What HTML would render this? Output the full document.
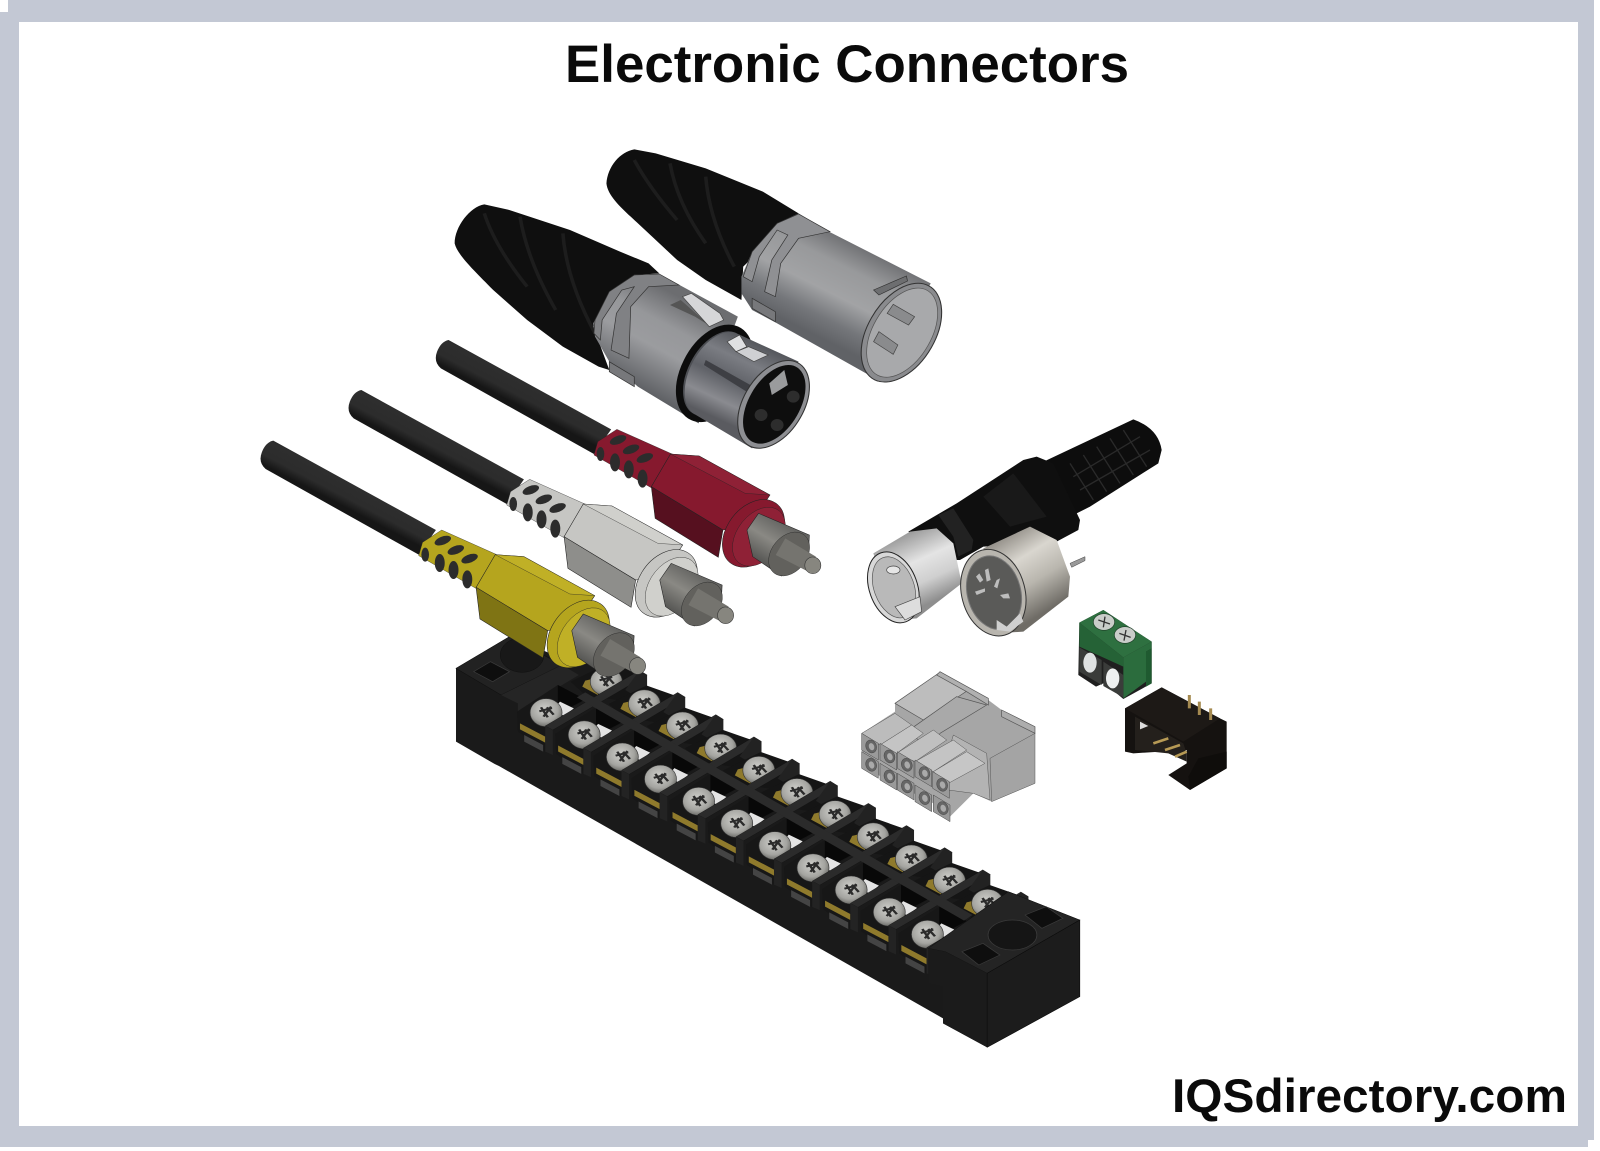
<!DOCTYPE html>
<html><head><meta charset="utf-8"><style>
html,body{margin:0;padding:0;background:#fff;width:1600px;height:1151px;overflow:hidden}
svg{display:block}
</style></head><body>
<svg xmlns="http://www.w3.org/2000/svg" xmlns:xlink="http://www.w3.org/1999/xlink" width="1600" height="1151" viewBox="0 0 1600 1151">
<defs>
<linearGradient id="mg" gradientUnits="userSpaceOnUse" x1="1290" y1="410" x2="1150" y2="670"><stop offset="0" stop-color="#707174"/><stop offset=".25" stop-color="#98999b"/><stop offset=".55" stop-color="#a2a3a5"/><stop offset=".8" stop-color="#75777b"/><stop offset="1" stop-color="#606266"/></linearGradient>
<linearGradient id="fg" gradientUnits="userSpaceOnUse" x1="760" y1="550" x2="610" y2="810"><stop offset="0" stop-color="#6c6d70"/><stop offset=".3" stop-color="#96979a"/><stop offset=".55" stop-color="#9b9c9f"/><stop offset="1" stop-color="#5c5e62"/></linearGradient>
<linearGradient id="fg2" gradientUnits="userSpaceOnUse" x1="960" y1="660" x2="840" y2="900"><stop offset="0" stop-color="#4d4f54"/><stop offset=".3" stop-color="#7b7d83"/><stop offset=".55" stop-color="#5f6167"/><stop offset=".8" stop-color="#8a8b90"/><stop offset="1" stop-color="#5a5b60"/></linearGradient>
<linearGradient id="cab" gradientUnits="userSpaceOnUse" x1="770" y1="150" x2="725" y2="225"><stop offset="0" stop-color="#111"/><stop offset=".2" stop-color="#2e2e2e"/><stop offset=".7" stop-color="#2c2c2c"/><stop offset="1" stop-color="#161616"/></linearGradient>
<linearGradient id="shell" gradientUnits="userSpaceOnUse" x1="1440" y1="570" x2="1350" y2="700"><stop offset="0" stop-color="#5a5a58"/><stop offset=".5" stop-color="#8a8984"/><stop offset="1" stop-color="#4f4f4d"/></linearGradient>
<linearGradient id="ch" gradientUnits="userSpaceOnUse" x1="200" y1="400" x2="290" y2="600"><stop offset="0" stop-color="#9b9b9b"/><stop offset=".4" stop-color="#e4e4e4"/><stop offset=".7" stop-color="#cfcfcf"/><stop offset="1" stop-color="#8e8e8e"/></linearGradient>
<linearGradient id="sock" gradientUnits="userSpaceOnUse" x1="500" y1="390" x2="640" y2="620"><stop offset="0" stop-color="#8a867f"/><stop offset=".35" stop-color="#d9d6cf"/><stop offset=".65" stop-color="#b9b6ae"/><stop offset="1" stop-color="#6f6c66"/></linearGradient>
<radialGradient id="sc" cx=".45" cy=".4" r=".65"><stop offset="0" stop-color="#cfcfcb"/><stop offset=".65" stop-color="#a4a4a0"/><stop offset="1" stop-color="#5f5f5b"/></radialGradient>

<g id="screw">
<ellipse cx="0" cy="0" rx="38" ry="42" fill="url(#sc)" stroke="#333" stroke-width="1.5"/>
<path d="M-16 -4 L14 -14 M-6 12 L12 -18 M-12 -16 L4 14 M2 -16 L18 6" stroke="#2b2b2b" stroke-width="6" fill="none"/>
</g>

<g id="rca">
<path d="M545 30 L970 298 L925 372 L525 115 Q505 95 515 65 Q525 35 545 30Z" fill="url(#cab)"/>
<path d="M985 298 L1135 375 L1085 480 L925 375 L935 335Z" fill="var(--c1)" stroke="#222" stroke-width="1"/>
<g fill="#2c2c2c">
<ellipse cx="988" cy="330" rx="23" ry="12" transform="rotate(-25 988 330)"/>
<ellipse cx="1022" cy="358" rx="23" ry="12" transform="rotate(-25 1022 358)"/>
<ellipse cx="1058" cy="384" rx="23" ry="12" transform="rotate(-25 1058 384)"/>
<ellipse cx="942" cy="372" rx="10" ry="21"/>
<ellipse cx="980" cy="397" rx="13" ry="27"/>
<ellipse cx="1016" cy="418" rx="13" ry="27"/>
<ellipse cx="1052" cy="446" rx="13" ry="27"/>
</g>
<path d="M1075 470 L1125 372 L1200 378 L1385 495 L1330 590 L1262 600Z" fill="var(--c1)" stroke="#222" stroke-width="1.5"/>
<path d="M1125 372 L1200 378 L1385 495 L1320 490Z" fill="var(--c3)" stroke="#222" stroke-width="1"/>
<path d="M1075 470 L1262 600 L1250 682 L1085 565Z" fill="var(--c2)" stroke="#222" stroke-width="1.5"/>
<ellipse cx="1342" cy="610" rx="72" ry="108" transform="rotate(28 1342 610)" fill="var(--c1)" stroke="#222" stroke-width="1.5"/>
<ellipse cx="1356" cy="620" rx="60" ry="95" transform="rotate(28 1356 620)" fill="var(--c3)" stroke="#222" stroke-width="1"/>
<path d="M1355 550 L1488 615 L1485 680 L1415 738 L1340 680 L1325 600Z" fill="url(#shell)" stroke="#222" stroke-width="1.5"/>
<ellipse cx="1435" cy="672" rx="48" ry="70" transform="rotate(28 1435 672)" fill="#62615d" stroke="#222" stroke-width="1"/>
<path d="M1425 625 L1505 680 L1485 725 L1400 675Z" fill="#75746f"/>
<ellipse cx="1497" cy="706" rx="21" ry="25" fill="#87867f" stroke="#333" stroke-width="1.5"/>
</g>

<g id="unit">
<path d="M310 125 L400 70 L490 110 L490 150 L455 175 L420 180 L345 165Z" fill="#151515"/>
<path d="M345 122 L385 110 L375 165 L338 140Z" fill="#8f7a2c"/>
<use xlink:href="#screw" x="395" y="125"/>
<path d="M183 215 L280 135 L345 178 L250 258 L250 335 L185 275Z" fill="#171717"/>
<path d="M280 135 L345 178 L305 205 L280 190Z" fill="#080808"/>
<path d="M200 285 L245 315 L245 335 L200 305Z" fill="#444"/>
<path d="M190 250 L250 290 L250 308 L190 268Z" fill="#8f7a2c"/>
<path d="M285 185 L318 205 L295 228 L268 210Z" fill="#e4e4e4"/>
<use xlink:href="#screw" x="252" y="218"/>
<path d="M250 258 L474 91 L492 105 L268 270Z" fill="#2b2b2b" stroke="#111" stroke-width="1"/>
<path d="M250 258 L268 270 L268 345 L250 335Z" fill="#232323"/>
<path d="M474 91 L492 105 L492 148 L464 168 L440 150Z" fill="#222"/>
</g>

<g id="sk">
<path d="M-25 -30 L25 0 L25 50 L-25 20Z" fill="#9a9a9a" stroke="#444" stroke-width="1.5"/>
<ellipse cx="0" cy="10" rx="16" ry="20" transform="rotate(-20)" fill="#666" stroke="#333" stroke-width="1"/>
<ellipse cx="1" cy="11" rx="8" ry="11" transform="rotate(-20)" fill="#aaa"/>
</g>
</defs>

<rect x="8" y="0" width="1586" height="22" fill="#c3c8d4"/>
<rect x="0" y="12" width="19" height="1135" fill="#c3c8d4"/>
<rect x="1578" y="0" width="16" height="1140" fill="#c3c8d4"/>
<rect x="0" y="1126" width="1588" height="21" fill="#c3c8d4"/>

<text x="565" y="82" font-family="'Liberation Sans',sans-serif" font-weight="700" font-size="53" textLength="564" lengthAdjust="spacingAndGlyphs" fill="#0a0a0a">Electronic Connectors</text>
<text x="1172" y="1112" font-family="'Liberation Sans',sans-serif" font-weight="700" font-size="47" textLength="395" lengthAdjust="spacingAndGlyphs" fill="#0a0a0a">IQSdirectory.com</text>

<g transform="translate(420,120) scale(.35714,.33333)">
<path d="M600 88 C560 95 525 140 522 190 C525 225 560 260 590 290 L650 350 L720 420 L800 480 L900 540 L905 440 L1060 280 L960 215 L800 145 L660 100Z" fill="#0f0f0f"/>
<path d="M600 120 Q640 200 720 300 M700 130 Q720 250 800 370 M800 170 Q810 300 880 440" stroke="#1d1d1d" stroke-width="10" fill="none"/>
<path d="M1145 335 L1430 490 L1290 785 L1000 610 L930 570 L900 520 L900 470 L930 395 L1000 310 L1060 280Z" fill="url(#mg)"/>
<path d="M1060 282 L1148 335 L1060 355 L1010 430 L995 530 L965 515 L985 420 L1030 345 L1000 330 L950 410 L930 485 L905 470 L930 395 L1000 310Z" fill="#8f9093" stroke="#333" stroke-width="2"/>
<path d="M930 535 L995 575 L995 605 L930 565Z" fill="#77787b" stroke="#333" stroke-width="2"/>
<ellipse cx="1348" cy="638" rx="95" ry="160" transform="rotate(28 1348 638)" fill="#8a8b8e" stroke="#333" stroke-width="3"/>
<ellipse cx="1350" cy="638" rx="82" ry="145" transform="rotate(28 1350 638)" fill="#a8a9ab" stroke="#555" stroke-width="2"/>
<path d="M1270 510 L1362 468 L1365 483 L1285 525Z" fill="#6d6e70" stroke="#333" stroke-width="2"/>
<path d="M1325 553 L1385 590 L1368 615 L1308 580Z" fill="#8a8b8d" stroke="#444" stroke-width="2"/>
<path d="M1285 635 L1338 675 L1325 703 L1270 665Z" fill="#8a8b8d" stroke="#444" stroke-width="2"/>

<path d="M180 253 C140 260 97 320 97 370 C105 405 150 450 205 510 L300 600 L400 680 L500 740 L530 750 L485 620 L530 520 L600 465 L670 460 L640 430 L560 395 L420 330 L250 270Z" fill="#0f0f0f"/>
<path d="M180 280 Q210 380 300 500 M280 290 Q300 420 380 570 M400 340 Q410 480 490 640" stroke="#1d1d1d" stroke-width="10" fill="none"/>
<path d="M670 462 L890 590 L790 880 L780 910 L610 800 L530 725 L490 650 L485 610 L530 515 L600 465Z" fill="url(#fg)"/>
<path d="M670 462 L725 495 L640 500 L590 560 L585 715 L535 690 L550 580 L600 500 L565 510 L510 600 L505 660 L487 640 L490 600 L530 515 L600 465Z" fill="#808184" stroke="#333" stroke-width="2"/>
<path d="M530 725 L600 770 L600 800 L530 755Z" fill="#77787b" stroke="#333" stroke-width="2"/>
<path d="M700 555 L730 540 L815 620 L770 590Z" fill="#555"/>
<path d="M735 530 L760 520 L840 580 L850 600 L810 620 Z" fill="#d6d6d8" stroke="#444" stroke-width="2"/>
<ellipse cx="825" cy="760" rx="85" ry="145" transform="rotate(25 825 760)" fill="#4d4f54" stroke="#0c0c0c" stroke-width="20"/>
<path d="M882 638 L1060 725 L930 985 L768 882 A75 135 25 0 1 882 638Z" fill="url(#fg2)"/>
<path d="M800 720 L950 810 L925 822 L795 735Z" fill="#3e3f44"/>
<path d="M860 665 L895 645 L915 680 L885 695Z" fill="#dfe0e2" stroke="#444" stroke-width="2"/>
<path d="M885 695 L920 680 L975 705 L935 725Z" fill="#cfd0d3" stroke="#444" stroke-width="2"/>
<ellipse cx="990" cy="853" rx="85" ry="142" transform="rotate(28 990 853)" fill="#8d8e92" stroke="#333" stroke-width="3"/>
<ellipse cx="992" cy="853" rx="72" ry="128" transform="rotate(28 992 853)" fill="#0e0e0e"/>
<path d="M978 790 L1020 750 L1030 795 L985 825Z" fill="#9a9b9d"/>
<circle cx="1045" cy="830" r="18" fill="#2d2d2d"/><circle cx="955" cy="885" r="18" fill="#2d2d2d"/><circle cx="1000" cy="915" r="18" fill="#2d2d2d"/>
</g>

<g transform="translate(440,640) scale(.42092,.33333)">
<path d="M38 85 L165 -10 L300 60 L400 60 L490 105 L490 150 L464 168 L1370 833 L1350 755 L1520 840 L1520 1070 L1300 1222 L1195 1150 L1195 1135 L140 378 L130 372 L38 305Z" fill="#1a1a1a"/>
<path d="M38 85 L165 -10 L290 75 L145 165Z" fill="#222" stroke="#111" stroke-width="1.5"/>
<circle cx="195" cy="45" r="52" fill="#181818" stroke="#0c0c0c"/>
<path d="M80 95 L120 65 L165 95 L125 125Z" fill="#0e0e0e" stroke="#3a3a3a" stroke-width="2"/>
<path d="M145 165 L290 75 L330 105 L185 215 L185 190Z" fill="#252525"/>
<use xlink:href="#unit"/>
<use xlink:href="#unit" transform="translate(90.6,66.5)"/>
<use xlink:href="#unit" transform="translate(181.2,133)"/>
<use xlink:href="#unit" transform="translate(271.8,199.5)"/>
<use xlink:href="#unit" transform="translate(362.4,266)"/>
<use xlink:href="#unit" transform="translate(453,332.5)"/>
<use xlink:href="#unit" transform="translate(543.6,399)"/>
<use xlink:href="#unit" transform="translate(634.2,465.5)"/>
<use xlink:href="#unit" transform="translate(724.8,532)"/>
<use xlink:href="#unit" transform="translate(815.4,598.5)"/>
<use xlink:href="#unit" transform="translate(906,665)"/>
<path d="M325 172 L345 157 L1265 825 L1245 842Z" fill="#2b2b2b"/>
<path d="M1160 925 L1350 755 L1410 785 L1520 840 L1300 1000 L1200 935Z" fill="#242424" stroke="#111" stroke-width="1.5"/>
<path d="M1160 925 L1200 935 L1300 1000 L1300 1222 L1195 1150 L1195 1040 L1160 1030Z" fill="#1b1b1b"/>
<path d="M1300 1000 L1520 840 L1520 1070 L1300 1222Z" fill="#1c1c1c" stroke="#0c0c0c" stroke-width="1.5"/>
<ellipse cx="1360" cy="885" rx="58" ry="45" fill="#151515" stroke="#3a3a3a" stroke-width="2"/>
<path d="M1390 825 L1440 800 L1480 835 L1430 865Z" fill="#0e0e0e" stroke="#3a3a3a" stroke-width="2"/>
<path d="M1240 935 L1290 910 L1330 945 L1280 975Z" fill="#0e0e0e" stroke="#3a3a3a" stroke-width="2"/>
</g>

<g transform="translate(240,330) scale(.38265,.33333)">
<use xlink:href="#rca" style="--c1:#86192e;--c2:#56101f;--c3:#8f2136"/>
<use xlink:href="#rca" transform="translate(-228,150)" style="--c1:#c6c6c3;--c2:#8e8e8b;--c3:#d0d0cc"/>
<use xlink:href="#rca" transform="translate(-458,302)" style="--c1:#b5a51e;--c2:#7f7414;--c3:#c0b026"/>
</g>

<g transform="translate(840,400) scale(.33333)">
<path d="M880 58 Q955 85 965 150 L955 190 L750 320 L700 345 L600 190Z" fill="#0d0d0d"/>
<path d="M690 190 L760 300 M730 165 L800 275 M770 140 L840 250 M810 115 L880 225 M850 90 L920 200 M700 230 L900 110 M720 270 L930 150" stroke="#2a2a2a" stroke-width="4" fill="none"/>
<path d="M205 395 L350 310 L550 180 L590 170 L640 190 L720 360 L715 390 L640 430 L430 440 L360 480 L300 480Z" fill="#0f0f0f"/>
<path d="M430 290 L520 220 L620 350 L510 380Z" fill="#191919"/>
<path d="M295 345 L340 325 L400 420 L395 450 L355 470 L340 410Z" fill="#222"/>
<path d="M100 460 L210 395 L290 385 L340 430 L365 550 L230 655 L170 660Z" fill="url(#ch)"/>
<ellipse cx="160" cy="562" rx="72" ry="110" transform="rotate(-20 160 562)" fill="#d8d8d8" stroke="#222" stroke-width="3"/>
<ellipse cx="162" cy="562" rx="60" ry="95" transform="rotate(-20 162 562)" fill="#b9b9b9" stroke="#555" stroke-width="2"/>
<ellipse cx="160" cy="510" rx="20" ry="12" fill="#e6e6e6" stroke="#444" stroke-width="2"/>
<path d="M165 620 L240 590 L245 635 L195 660Z" fill="#ddd" stroke="#444" stroke-width="2"/>
<path d="M430 445 L570 380 L650 420 L690 530 L685 590 L550 695 L470 700Z" fill="url(#sock)"/>
<path d="M690 490 L735 470 L735 482 L695 502Z" fill="#999" stroke="#444" stroke-width="1.5"/>
<ellipse cx="460" cy="578" rx="95" ry="132" transform="rotate(-15 460 578)" fill="#b8b5ae" stroke="#333" stroke-width="3"/>
<ellipse cx="462" cy="578" rx="80" ry="112" transform="rotate(-15 462 578)" fill="#5a5a58" stroke="#777" stroke-width="3"/>
<path d="M408 530 L418 520 L430 540 L420 548Z M435 510 L445 505 L452 540 L440 545Z M470 540 L480 535 L472 565 L462 560Z M405 575 L435 565 L435 575 L410 585Z M480 585 L505 580 L510 595 L490 595Z" fill="#bdbdbd"/>
<path d="M470 660 L500 680 L540 640 L550 665 L510 695 L470 690Z" fill="#cfcfcf"/>
<path d="M718 668 L790 630 L935 725 L935 850 L850 897 L830 880 L830 865 L790 850 L768 860 L715 825Z" fill="#1f1f1f"/>
<path d="M718 668 L790 630 L935 725 L850 772Z" fill="#2e7040"/>
<path d="M718 668 L850 772 L850 800 L718 740Z" fill="#256236"/>
<path d="M850 772 L935 725 L935 745 L918 755 L918 845 L850 895Z" fill="#2b6c3d"/>
<path d="M918 755 L935 745 L935 850 L918 860Z" fill="#1f5a30"/>
<ellipse cx="792" cy="666" rx="32" ry="25" fill="#c9cdc9" stroke="#1d3d26" stroke-width="2"/>
<ellipse cx="855" cy="705" rx="32" ry="25" fill="#c9cdc9" stroke="#1d3d26" stroke-width="2"/>
<path d="M775 660 L810 672 M795 650 L790 682 M838 700 L872 712 M858 690 L852 722" stroke="#333" stroke-width="4"/>
<path d="M718 742 L785 780 L785 855 L718 815Z" fill="#3a3c3a"/>
<path d="M790 785 L850 825 L850 892 L790 858Z" fill="#3a3c3a"/>
<ellipse cx="750" cy="788" rx="20" ry="30" fill="#dfe2e2"/>
<ellipse cx="818" cy="835" rx="20" ry="30" fill="#eef0f0"/>
<path d="M855 925 L965 862 L1140 955 L1160 965 L1160 1105 L1050 1170 L985 1125 L1040 1090 L1040 1050 L880 1060 L855 1055Z" fill="#151210"/>
<path d="M855 925 L965 862 L1140 955 L1030 1025Z" fill="#1d1916"/>
<path d="M885 950 L1030 1030 L1040 1060 L1040 1085 L985 1060 L885 1050Z" fill="#24201c"/>
<path d="M900 965 L925 978 L900 988Z" fill="#ddd"/>
<path d="M940 1030 L985 1015 M975 1050 L1020 1035 M1005 1070 L1040 1055" stroke="#b79a55" stroke-width="8"/>
<path d="M1048 885 V925 M1078 905 V945 M1112 925 V960" stroke="#a58a50" stroke-width="9"/>
<path d="M1075 1075 L1160 1055 L1160 1105 L1050 1170 L1045 1130Z" fill="#0f0d0b"/>
<path d="M165 910 L295 820 L445 900 L485 930 L585 980 L585 1150 L455 1205 L400 1180 L330 1250 L280 1210 L65 1100 L65 1000 L165 935Z" fill="#a6a6a6"/>
<path d="M165 910 L295 820 L385 870 L250 960Z" fill="#bdbdbd" stroke="#555" stroke-width="2"/>
<path d="M290 825 L300 815 L445 895 L445 915 L380 875Z" fill="#b0b0b0" stroke="#555" stroke-width="2"/>
<path d="M215 985 L350 890 L440 915 L300 1000 L290 1030 L250 1030 L215 1005Z" fill="#a9a9a9" stroke="#555" stroke-width="2"/>
<path d="M485 930 L585 980 L585 1000 L485 950Z" fill="#adadad" stroke="#555" stroke-width="2"/>
<path d="M450 1075 L585 1000 L585 1150 L455 1205Z" fill="#a4a4a4" stroke="#555" stroke-width="1.5"/>
<path d="M340 1005 L440 1060 L450 1200 L400 1180 L325 1170 L300 1140Z" fill="#b3b3b3" stroke="#555" stroke-width="1.5"/>
<path d="M65 1000 L165 940 L215 975 L120 1035Z" fill="#bcbcbc" stroke="#555" stroke-width="1.5"/>
<path d="M120 1035 L215 975 L250 1000 L170 1060Z" fill="#c4c4c4" stroke="#555" stroke-width="1.5"/>
<path d="M170 1060 L280 990 L320 1020 L225 1085Z" fill="#c0c0c0" stroke="#555" stroke-width="1.5"/>
<path d="M225 1085 L340 1020 L380 1050 L280 1115Z" fill="#c4c4c4" stroke="#555" stroke-width="1.5"/>
<path d="M280 1115 L380 1055 L435 1090 L325 1150Z" fill="#c6c6c6" stroke="#555" stroke-width="1.5"/>
<use xlink:href="#sk" x="90" y="1030"/><use xlink:href="#sk" x="145" y="1060"/><use xlink:href="#sk" x="197" y="1085"/><use xlink:href="#sk" x="250" y="1110"/><use xlink:href="#sk" x="303" y="1145"/>
<use xlink:href="#sk" x="90" y="1085"/><use xlink:href="#sk" x="145" y="1120"/><use xlink:href="#sk" x="197" y="1150"/><use xlink:href="#sk" x="250" y="1185"/><use xlink:href="#sk" x="305" y="1215"/>
</g>
</svg>
</body></html>
